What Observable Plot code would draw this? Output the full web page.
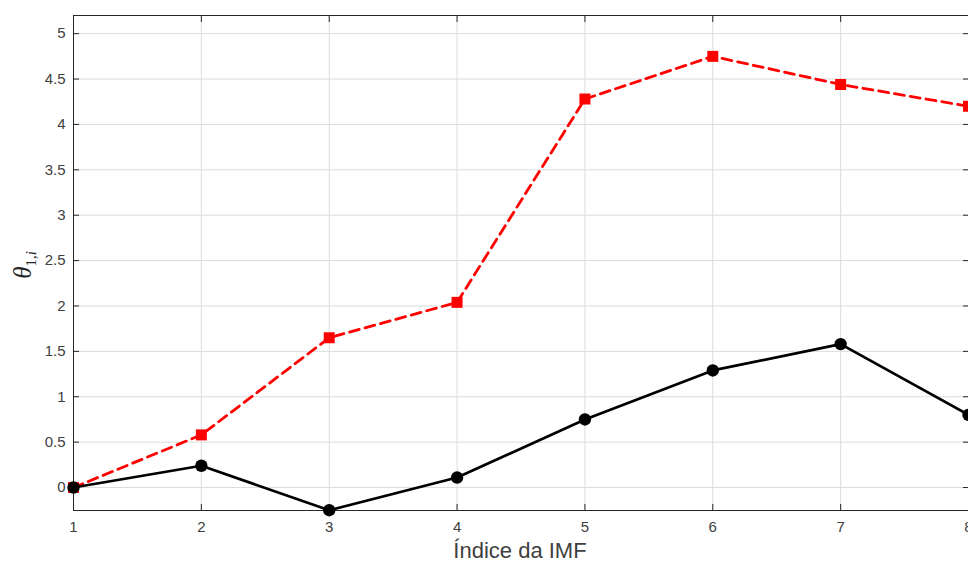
<!DOCTYPE html>
<html>
<head>
<meta charset="utf-8">
<script src="https://cdn.jsdelivr.net/npm/d3@7"></script>
<script src="https://cdn.jsdelivr.net/npm/@observablehq/plot@0.6"></script>
<style>
  html, body { margin: 0; padding: 0; background: #fff; }
  #chart { width: 968px; height: 565px; overflow: hidden; }
</style>
</head>
<body>
<div id="chart"></div>
<script>
const imfIndex = [1, 2, 3, 4, 5, 6, 7, 8];
const seriesRed = [0, 0.58, 1.65, 2.04, 4.28, 4.75, 4.44, 4.2];
const seriesBlack = [0, 0.24, -0.25, 0.11, 0.75, 1.29, 1.58, 0.8];
const xTicks = [1, 2, 3, 4, 5, 6, 7, 8];
const yTicks = [0, 0.5, 1, 1.5, 2, 2.5, 3, 3.5, 4, 4.5, 5];
const xLabel = "Índice da IMF";

const red = imfIndex.map((x, i) => ({x, y: seriesRed[i]}));
const black = imfIndex.map((x, i) => ({x, y: seriesBlack[i]}));

const tickColor = "#262626";
const labelColor = "#404040";

const plot = Plot.plot({
  width: 968,
  height: 565,
  marginLeft: 73,
  marginRight: 0,
  marginTop: 15,
  marginBottom: 55,
  style: {fontFamily: "'Liberation Sans', Arial, sans-serif", color: labelColor, background: "#fff"},
  x: {domain: [1, 8]},
  y: {domain: [-0.253, 5.2]},
  marks: [
    Plot.gridX(xTicks, {stroke: "#dcdcdc", strokeOpacity: 1, strokeWidth: 1}),
    Plot.gridY(yTicks, {stroke: "#dcdcdc", strokeOpacity: 1, strokeWidth: 1}),
    Plot.axisX(xTicks, {anchor: "bottom", tickSize: -6, text: null, stroke: tickColor, label: null}),
    Plot.axisX(xTicks, {anchor: "top", tickSize: -6, text: null, stroke: tickColor, label: null}),
    Plot.axisY(yTicks, {anchor: "left", tickSize: -6, text: null, stroke: tickColor, label: null}),
    Plot.axisY(yTicks, {anchor: "right", tickSize: -6, text: null, stroke: tickColor, label: null}),
    Plot.text(xTicks, {x: d => d, frameAnchor: "bottom", dy: 17, text: d => String(d), fill: labelColor, fontSize: 15, lineAnchor: "middle"}),
    Plot.text(yTicks, {y: d => d, frameAnchor: "left", dx: -8, text: d => String(d), fill: labelColor, fontSize: 15, textAnchor: "end"}),
    Plot.frame({stroke: tickColor, strokeWidth: 1}),
    Plot.line(red, {x: "x", y: "y", stroke: "#ff0000", strokeWidth: 2.8, strokeDasharray: "10,6"}),
    Plot.dot(red, {x: "x", y: "y", symbol: "square", r: 6.2, fill: "#ff0000", stroke: "none"}),
    Plot.line(black, {x: "x", y: "y", stroke: "#000000", strokeWidth: 2.7}),
    Plot.dot(black, {x: "x", y: "y", symbol: "circle", r: 6.2, fill: "#000000", stroke: "none"})
  ]
});

const svg = d3.select(plot);
// x label
svg.append("text")
  .attr("x", 520)
  .attr("y", 558)
  .attr("text-anchor", "middle")
  .attr("fill", labelColor)
  .attr("font-family", "'Liberation Sans', Arial, sans-serif")
  .attr("font-size", 22)
  .text(xLabel);
// y label theta_{1,i}
const yl = svg.append("text")
  .attr("transform", "translate(31,265) rotate(-90)")
  .attr("text-anchor", "middle")
  .attr("fill", "#262626")
  .attr("font-family", "'Liberation Serif', 'DejaVu Serif', serif");
yl.append("tspan").attr("font-style", "italic").attr("font-size", 25).text("θ");
yl.append("tspan").attr("font-size", 15).attr("dy", 5).text("1,");
yl.append("tspan").attr("font-size", 15).attr("font-style", "italic").text("i");

document.getElementById("chart").appendChild(plot);
</script>
</body>
</html>
